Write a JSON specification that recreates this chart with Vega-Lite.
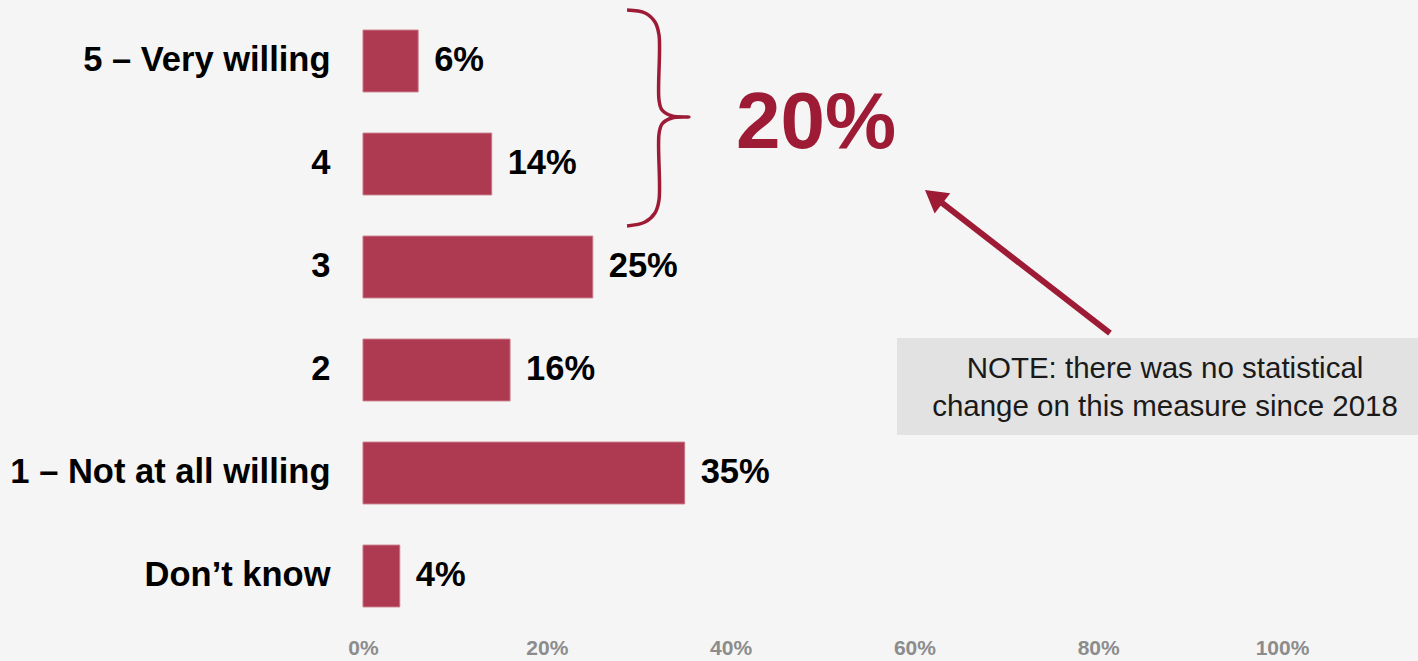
{
  "$schema": "https://vega.github.io/schema/vega-lite/v6.json",
  "width": 919,
  "height": 618,
  "autosize": {"type": "none"},
  "padding": {"left": 363, "top": 9.5, "right": 136, "bottom": 33.5},
  "background": "#f5f5f5",
  "config": {"view": {"stroke": null}, "font": "Liberation Sans"},
  "datasets": {
    "bars": [
      {"cat": "5 – Very willing", "pct": 6, "label": "6%"},
      {"cat": "4", "pct": 14, "label": "14%"},
      {"cat": "3", "pct": 25, "label": "25%"},
      {"cat": "2", "pct": 16, "label": "16%"},
      {"cat": "1 – Not at all willing", "pct": 35, "label": "35%"},
      {"cat": "Don’t know", "pct": 4, "label": "4%"}
    ],
    "brace": [
      {"o": 1, "x": 28.73, "y": 5.995},
      {"o": 2, "x": 30.69, "y": 5.966},
      {"o": 3, "x": 31.77, "y": 5.879},
      {"o": 4, "x": 32.21, "y": 5.752},
      {"o": 5, "x": 32.21, "y": 5.121},
      {"o": 6, "x": 32.54, "y": 5.024},
      {"o": 7, "x": 33.62, "y": 4.966},
      {"o": 8, "x": 35.47, "y": 4.956},
      {"o": 9, "x": 33.62, "y": 4.947},
      {"o": 10, "x": 32.54, "y": 4.888},
      {"o": 11, "x": 32.21, "y": 4.791},
      {"o": 12, "x": 32.21, "y": 4.150},
      {"o": 13, "x": 31.77, "y": 4.024},
      {"o": 14, "x": 30.69, "y": 3.937},
      {"o": 15, "x": 28.73, "y": 3.898}
    ],
    "arrow": [
      {"o": 1, "x": 81.28, "y": 2.859},
      {"o": 2, "x": 62.79, "y": 4.136}
    ],
    "arrowhead": [{"x": 62.1, "y": 4.183}],
    "big": [{"x": 49.3, "y": 4.655, "t": "20%"}],
    "notebox": [{"x": 58.11, "x2": 114.8, "y": 2.811, "y2": 1.869}],
    "notetext": [{"x": 87.27, "y": 2.505, "t": "NOTE: there was no statistical\nchange on this measure since 2018"}]
  },
  "resolve": {"scale": {"y": "independent"}},
  "layer": [
    {
      "data": {"name": "bars"},
      "layer": [
        {
          "mark": {"type": "bar", "color": "#ad3a50", "stroke": "#c97583", "strokeWidth": 1},
          "encoding": {
            "y": {
              "field": "cat", "type": "nominal", "sort": null,
              "scale": {"paddingInner": 0.4, "paddingOuter": 0.2},
              "axis": {"title": null, "ticks": false, "domain": false, "labelPadding": 33, "labelFontSize": 34.5, "labelFontWeight": "bold", "labelColor": "#000000", "labelLimit": 500, "labelFont": "Liberation Sans"}
            },
            "x": {
              "field": "pct", "type": "quantitative",
              "scale": {"domain": [0, 100], "nice": false, "zero": true},
              "axis": {"title": null, "values": [0, 20, 40, 60, 80, 100], "labelExpr": "datum.value + '%'", "labelFlush": false, "grid": false, "ticks": false, "domain": false, "labelColor": "#8c8c8c", "labelFontSize": 21, "labelPadding": 10, "labelBaseline": "top", "labelFont": "Liberation Sans", "labelFontWeight": "bold"}
            }
          }
        },
        {
          "mark": {"type": "text", "align": "left", "baseline": "middle", "dx": 16, "fontSize": 34.5, "fontWeight": "bold", "color": "#000000"},
          "encoding": {
            "y": {"field": "cat", "type": "nominal", "sort": null},
            "x": {"field": "pct", "type": "quantitative"},
            "text": {"field": "label"}
          }
        }
      ]
    },
    {
      "data": {"name": "notebox"},
      "mark": {"type": "rect", "color": "#e2e2e2"},
      "encoding": {
        "x": {"field": "x", "type": "quantitative"},
        "x2": {"field": "x2"},
        "y": {"field": "y", "type": "quantitative", "scale": {"domain": [0, 6], "nice": false, "zero": false}, "axis": null},
        "y2": {"field": "y2"}
      }
    },
    {
      "data": {"name": "notetext"},
      "mark": {"type": "text", "align": "center", "baseline": "middle", "lineBreak": "\n", "lineHeight": 38, "fontSize": 29.5, "color": "#1a1a1a"},
      "encoding": {
        "x": {"field": "x", "type": "quantitative"},
        "y": {"field": "y", "type": "quantitative", "scale": {"domain": [0, 6], "nice": false, "zero": false}, "axis": null},
        "text": {"field": "t"}
      }
    },
    {
      "data": {"name": "brace"},
      "mark": {"type": "line", "color": "#9e1b36", "strokeWidth": 3.5, "interpolate": "catmull-rom"},
      "encoding": {
        "x": {"field": "x", "type": "quantitative"},
        "y": {"field": "y", "type": "quantitative", "scale": {"domain": [0, 6], "nice": false, "zero": false}, "axis": null},
        "order": {"field": "o"}
      }
    },
    {
      "data": {"name": "arrow"},
      "mark": {"type": "line", "color": "#9e1b36", "strokeWidth": 6},
      "encoding": {
        "x": {"field": "x", "type": "quantitative"},
        "y": {"field": "y", "type": "quantitative", "scale": {"domain": [0, 6], "nice": false, "zero": false}, "axis": null},
        "order": {"field": "o"}
      }
    },
    {
      "data": {"name": "arrowhead"},
      "mark": {"type": "point", "shape": "triangle-up", "filled": true, "color": "#9e1b36", "opacity": 1, "size": 650, "angle": 307.7},
      "encoding": {
        "x": {"field": "x", "type": "quantitative"},
        "y": {"field": "y", "type": "quantitative", "scale": {"domain": [0, 6], "nice": false, "zero": false}, "axis": null}
      }
    },
    {
      "data": {"name": "big"},
      "mark": {"type": "text", "align": "center", "baseline": "alphabetic", "fontSize": 80, "fontWeight": "bold", "color": "#9e1b36"},
      "encoding": {
        "x": {"field": "x", "type": "quantitative"},
        "y": {"field": "y", "type": "quantitative", "scale": {"domain": [0, 6], "nice": false, "zero": false}, "axis": null},
        "text": {"field": "t"}
      }
    }
  ]
}
